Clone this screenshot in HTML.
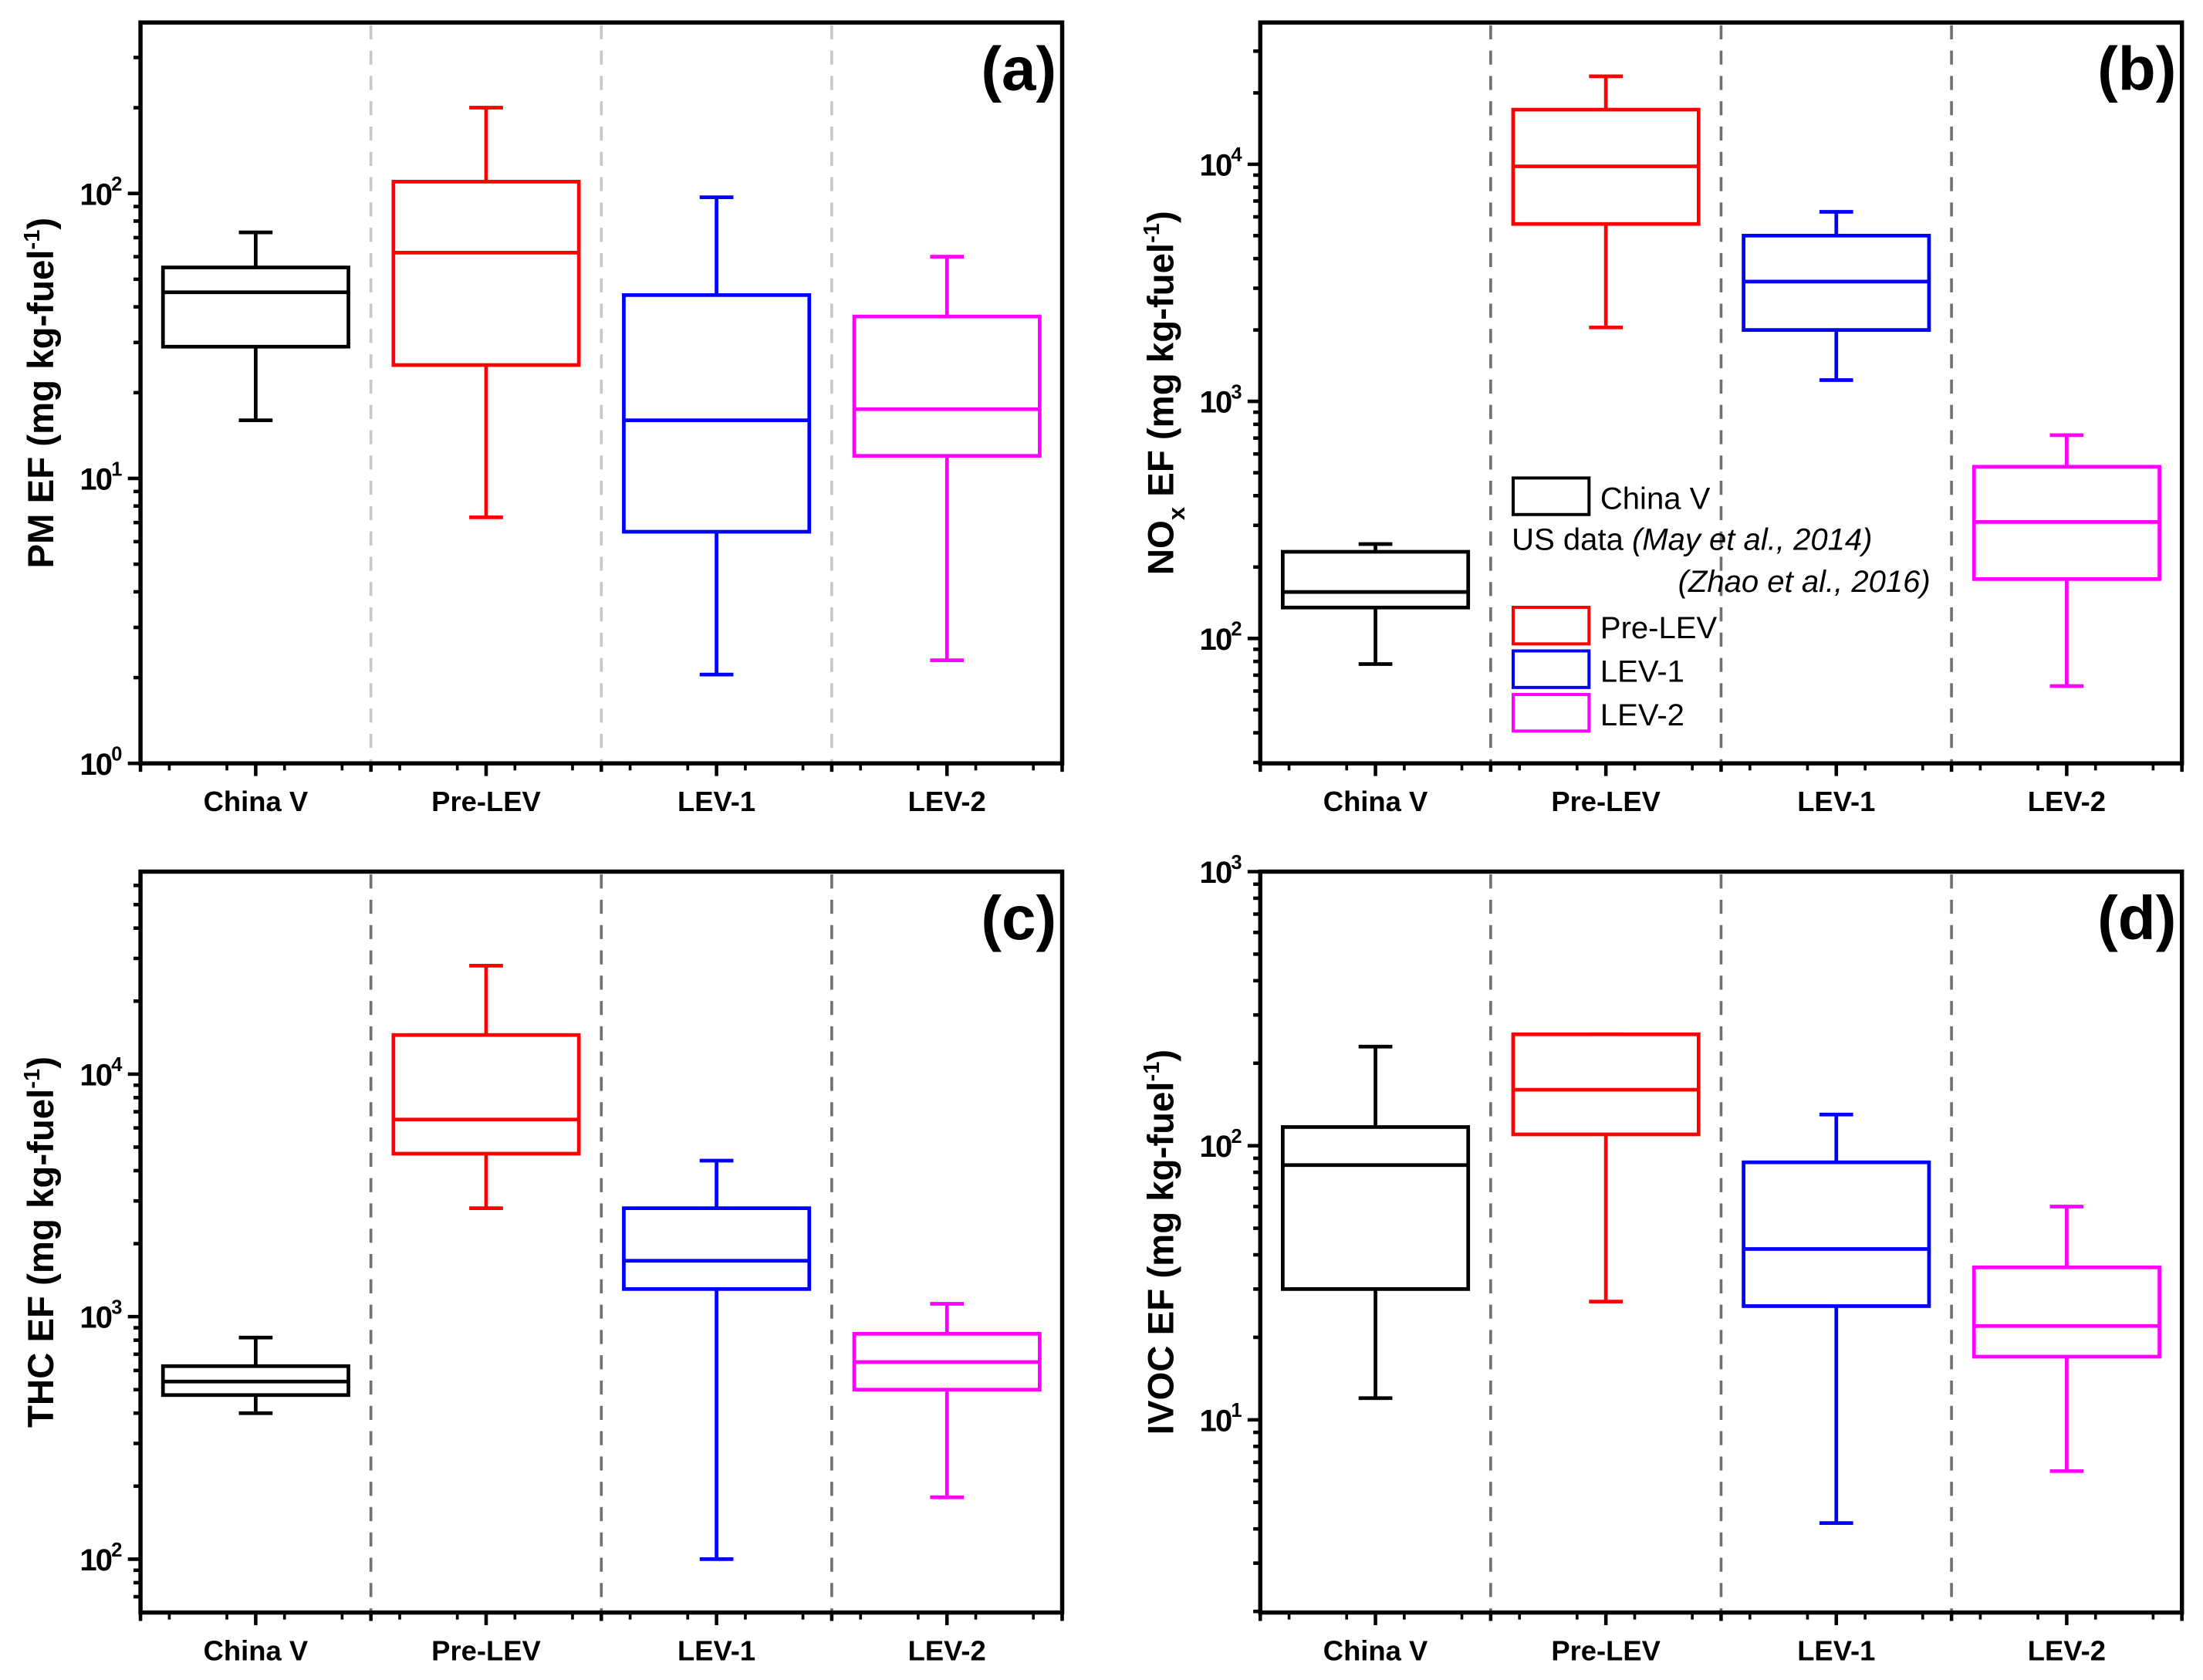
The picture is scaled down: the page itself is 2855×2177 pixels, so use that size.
<!DOCTYPE html>
<html><head><meta charset="utf-8"><style>
html,body{margin:0;padding:0;background:#fff;}
svg{display:block;font-family:"Liberation Sans",Arial,sans-serif;}
</style></head><body>
<svg id="chart" width="2855" height="2177" viewBox="0 0 1568 1195" preserveAspectRatio="none" xmlns="http://www.w3.org/2000/svg"></svg>
<script>
const categories = ["China V","Pre-LEV","LEV-1","LEV-2"];
const colors = ["#000000","#ff0000","#0000ff","#ff00ff"];
// [lowWhisker, q1, median, q3, highWhisker]
const dataA = [[16,29,45,55,73],[7.3,25,62,110,200],[2.05,6.5,16,44,97],[2.3,12,17.5,37,60]];
const dataB = [[78,135,157,232,250],[2050,5600,9800,17000,23500],[1230,2000,3200,5000,6300],[63,178,310,530,720]];
const dataC = [[400,475,540,625,820],[2800,4700,6500,14500,28000],[100,1300,1700,2800,4400],[180,500,650,850,1130]];
const dataD = [[12,30,85,117,230],[27,110,160,255,255],[4.2,26,42,87,130],[6.5,17,22,36,60]];
const ticksA = [0,1,2], ticksB=[2,3,4], ticksC=[2,3,4], ticksD=[1,2,3];

const NS="http://www.w3.org/2000/svg";
const svg=document.getElementById('chart');
function mk(tag,attrs,parent){const e=document.createElementNS(NS,tag);for(const k in attrs)e.setAttribute(k,attrs[k]);(parent||svg).appendChild(e);return e;}

const panels=[
 {id:'a',x0:100,x1:756,y0:16,y1:543,lmin:0,lmax:2.6,data:dataA,ticks:ticksA,label:'PM EF',divColor:'#c8c8c8'},
 {id:'b',x0:897,x1:1553,y0:16,y1:543,lmin:1.473,lmax:4.598,data:dataB,ticks:ticksB,label:'NOx EF',divColor:'#707070'},
 {id:'c',x0:100,x1:756,y0:620,y1:1147,lmin:1.78,lmax:4.835,data:dataC,ticks:ticksC,label:'THC EF',divColor:'#707070'},
 {id:'d',x0:897,x1:1553,y0:620,y1:1147,lmin:0.297,lmax:3,data:dataD,ticks:ticksD,label:'IVOC EF',divColor:'#707070'}
];

panels.forEach(p=>{
  const g=mk('g',{});
  
  
  const yv=v=>p.y1-(Math.log10(v)-p.lmin)/(p.lmax-p.lmin)*(p.y1-p.y0);
  const w=(p.x1-p.x0)/4;
  const xc=i=>p.x0+w*(i+0.5);
  for(let i=1;i<4;i++){
    const d=mk('line',{x1:p.x0+w*i,x2:p.x0+w*i,y1:p.y0+2,y2:p.y1,stroke:p.divColor,'stroke-width':2,'stroke-dasharray':'10,8'},g);
    
    
  }
  p.data.forEach((d,i)=>{
    const bg=mk('g',{},g);
    
    
    const c=colors[i],cx=xc(i),bw=66,cw=12,sw=2.6;
    mk('line',{x1:cx,x2:cx,y1:yv(d[0]),y2:yv(d[1]),stroke:c,'stroke-width':sw},bg);
    mk('line',{x1:cx,x2:cx,y1:yv(d[3]),y2:yv(d[4]),stroke:c,'stroke-width':sw},bg);
    mk('line',{x1:cx-cw,x2:cx+cw,y1:yv(d[0]),y2:yv(d[0]),stroke:c,'stroke-width':sw},bg);
    mk('line',{x1:cx-cw,x2:cx+cw,y1:yv(d[4]),y2:yv(d[4]),stroke:c,'stroke-width':sw},bg);
    mk('rect',{x:cx-bw,y:yv(d[3]),width:2*bw,height:yv(d[1])-yv(d[3]),fill:'#fff',stroke:c,'stroke-width':sw},bg);
    mk('line',{x1:cx-bw,x2:cx+bw,y1:yv(d[2]),y2:yv(d[2]),stroke:c,'stroke-width':sw},bg);
    const t=mk('text',{x:cx,y:p.y1+34,'text-anchor':'middle','font-size':20,'font-weight':'bold'},g);
    t.textContent=categories[i];
    
    
  });
  const f=mk('rect',{x:p.x0,y:p.y0,width:p.x1-p.x0,height:p.y1-p.y0,fill:'none',stroke:'#000','stroke-width':3},g);
  
  
  for(let e=Math.floor(p.lmin);e<=Math.ceil(p.lmax);e++){
    for(let m=1;m<10;m++){
      const L=e+Math.log10(m); if(L<p.lmin-1e-6||L>p.lmax+1e-6)continue;
      const y=p.y1-(L-p.lmin)/(p.lmax-p.lmin)*(p.y1-p.y0);
      mk('line',{x1:p.x0-(m===1?9:5),x2:p.x0,y1:y,y2:y,stroke:'#000','stroke-width':2.5},g);
    }
  }
  p.ticks.forEach(e=>{
    const y=p.y1-(e-p.lmin)/(p.lmax-p.lmin)*(p.y1-p.y0);
    const t=mk('text',{x:p.x0-14,y:y+8,'text-anchor':'end','font-size':22,'font-weight':'bold','letter-spacing':'-1'},g);
    
    
    t.textContent='10';
    const s=mk('tspan',{dy:-10,'font-size':14},t); s.textContent=String(e);
  });
  for(let k=0;k<=8;k++){
    const x=p.x0+w*k/2;
    mk('line',{x1:x,x2:x,y1:p.y1,y2:p.y1+(k%2?9:6),stroke:'#000','stroke-width':2.5},g);
  }
  for(let k=0;k<16;k++){const x=p.x0+w*(k+0.5)/4;mk('line',{x1:x,x2:x,y1:p.y1,y2:p.y1+5,stroke:'#000','stroke-width':2},g);}
  const pl=mk('text',{x:p.x1-4,y:p.y0+48,'text-anchor':'end','font-size':44,'font-weight':'bold'},g);
  pl.textContent='('+p.id+')';
  
  
  const cy=(p.y0+p.y1)/2, tx=p.x0-62;
  const yt=mk('text',{x:tx,y:cy,'text-anchor':'middle','font-size':26,'font-weight':'bold',transform:`rotate(-90 ${tx} ${cy})`},g);
  
  
  if(p.id==='b'){
    yt.appendChild(document.createTextNode('NO'));
    const s1=mk('tspan',{dy:8,'font-size':17},yt);s1.textContent='x';
    const s2=mk('tspan',{dy:-8},yt);s2.textContent=' EF (mg kg-fuel';
  } else yt.appendChild(document.createTextNode(p.label+' (mg kg-fuel'));
  const sp=mk('tspan',{dy:-10,'font-size':16},yt);sp.textContent='-1';
  const sp2=mk('tspan',{dy:10},yt);sp2.textContent=')';
});

const lg=mk('g',{});


function entry(y,c,txt){
  const e=mk('g',{},lg);
  
  
  mk('rect',{x:1077,y:y,width:54,height:26,fill:'none',stroke:c,'stroke-width':2.2},e);
  const t=mk('text',{x:1139,y:y+22,'font-size':22},e);t.textContent=txt;
}
entry(340,'#000','China V');
const t1=mk('text',{x:1076,y:391,'font-size':22},lg);
t1.appendChild(document.createTextNode('US data '));
const i1=mk('tspan',{'font-style':'italic'},t1);i1.textContent='(May et al., 2014)';
const t2=mk('text',{x:1374,y:421,'font-size':22,'font-style':'italic','text-anchor':'end'},lg);t2.textContent='(Zhao et al., 2016)';
entry(432,'#ff0000','Pre-LEV');
entry(463,'#0000ff','LEV-1');
entry(494,'#ff00ff','LEV-2');
</script>
</body></html>
